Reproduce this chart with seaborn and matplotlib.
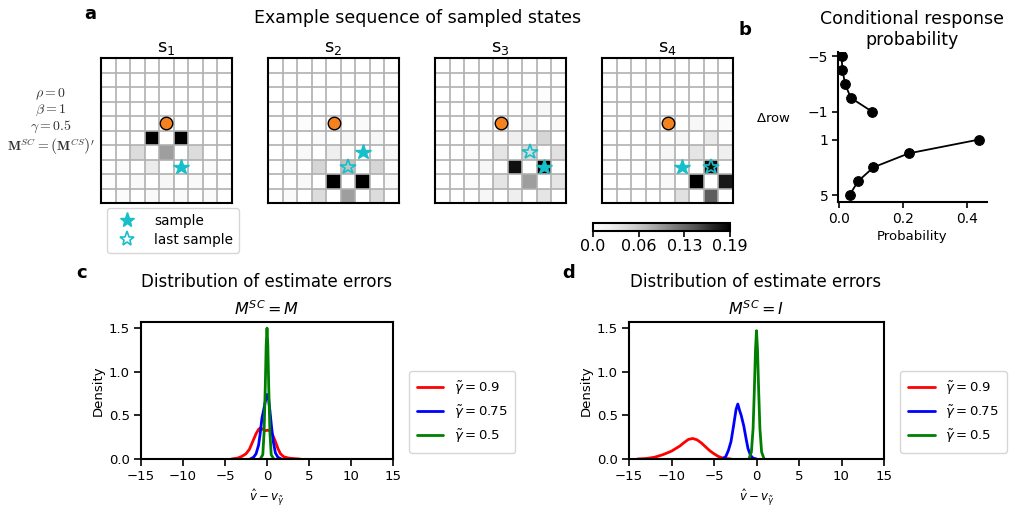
import numpy as np
import pandas as pd
import matplotlib
matplotlib.use("Agg")
import matplotlib.pyplot as plt
import seaborn as sns
from matplotlib.lines import Line2D

# ---------------- data ----------------
state_titles = ["s$_1$", "s$_2$", "s$_3$", "s$_4$"]

grid_s1 = [
    [0, 0, 0, 0, 0, 0, 0, 0, 0],
    [0, 0, 0, 0, 0, 0, 0, 0, 0],
    [0, 0, 0, 0, 0, 0, 0, 0, 0],
    [0, 0, 0, 0, 0, 0, 0, 0, 0],
    [0, 0, 0, 0, 0, 0, 0, 0, 0],
    [0, 0, 0, 0.19, 0, 0.19, 0, 0, 0],
    [0, 0, 0.045, 0, 0.09, 0, 0.045, 0, 0],
    [0, 0.008, 0, 0.028, 0, 0, 0, 0.008, 0],
    [0.004, 0, 0.01, 0, 0.012, 0, 0.01, 0, 0.004],
    [0, 0.006, 0, 0.008, 0, 0.008, 0, 0.006, 0],
]
grid_s2 = [
    [0, 0, 0, 0, 0, 0, 0, 0, 0],
    [0, 0, 0, 0, 0, 0, 0, 0, 0],
    [0, 0, 0, 0, 0, 0, 0, 0, 0],
    [0, 0, 0, 0, 0, 0, 0, 0.005, 0],
    [0, 0, 0.005, 0, 0, 0, 0.008, 0, 0.005],
    [0, 0.005, 0, 0.008, 0, 0.015, 0, 0.012, 0],
    [0, 0, 0.01, 0, 0.025, 0, 0, 0, 0.01],
    [0, 0.008, 0, 0.05, 0, 0.065, 0, 0.05, 0],
    [0, 0, 0.01, 0, 0.19, 0, 0.19, 0, 0.01],
    [0, 0.008, 0, 0.045, 0, 0.09, 0, 0.045, 0],
]
grid_s3 = [
    [0, 0, 0, 0, 0, 0, 0, 0, 0],
    [0, 0, 0, 0, 0, 0, 0, 0, 0],
    [0, 0, 0, 0, 0, 0, 0, 0.004, 0],
    [0, 0, 0, 0, 0, 0.004, 0, 0.012, 0],
    [0, 0, 0.004, 0, 0, 0, 0.015, 0, 0.008],
    [0, 0, 0, 0.01, 0, 0.025, 0, 0.05, 0],
    [0, 0, 0.006, 0, 0.035, 0, 0.045, 0, 0.04],
    [0, 0, 0, 0.012, 0, 0.18, 0, 0.19, 0],
    [0, 0, 0.006, 0, 0.035, 0, 0.09, 0, 0.035],
    [0, 0, 0, 0.012, 0, 0.025, 0, 0.035, 0],
]
grid_s4 = [
    [0, 0, 0, 0, 0, 0, 0, 0, 0],
    [0, 0, 0, 0, 0, 0, 0, 0, 0],
    [0, 0, 0, 0, 0, 0, 0, 0, 0],
    [0, 0, 0, 0, 0, 0, 0, 0.008, 0],
    [0, 0, 0, 0, 0, 0, 0.012, 0, 0.008],
    [0, 0, 0, 0.004, 0, 0.012, 0, 0.03, 0],
    [0, 0, 0, 0, 0.012, 0, 0.035, 0, 0.025],
    [0, 0, 0, 0.005, 0, 0, 0, 0.18, 0],
    [0, 0, 0, 0, 0.01, 0, 0.19, 0, 0.175],
    [0, 0, 0, 0, 0, 0.04, 0, 0.135, 0],
]
grids = [grid_s1, grid_s2, grid_s3, grid_s4]

goal_row, goal_col = 4, 4
sample_rows = [7, 6, 7, 7]
sample_cols = [5, 6, 7, 5]
last_rows = [None, 7, 6, 7]
last_cols = [None, 5, 6, 7]

cbar_ticks = [0.0, 0.19 / 3, 0.38 / 3, 0.19]
cbar_labels = ["0.0", "0.06", "0.13", "0.19"]

# panel b: conditional response probability
drow_neg = [-5, -4, -3, -2, -1]
prob_neg = [0.007, 0.010, 0.018, 0.036, 0.103]
drow_pos = [1, 2, 3, 4, 5]
prob_pos = [0.438, 0.217, 0.107, 0.059, 0.032]

# panel c: M^SC = M
c_red_x = [-4.2, -3.5, -3.0, -2.5, -2.1, -1.7, -1.3, -1.0, -0.8, -0.5, -0.2, 0.1, 0.4, 0.7, 1.0, 1.3, 1.6, 2.0, 2.6, 3.2, 3.9]
c_red_y = [0.0, 0.01, 0.03, 0.06, 0.11, 0.2, 0.29, 0.34, 0.355, 0.34, 0.325, 0.33, 0.32, 0.27, 0.2, 0.12, 0.06, 0.025, 0.01, 0.004, 0.0]
c_blue_x = [-2.0, -1.6, -1.3, -1.0, -0.8, -0.6, -0.4, -0.2, 0.0, 0.15, 0.35, 0.55, 0.75, 1.0, 1.3, 1.7]
c_blue_y = [0.0, 0.02, 0.06, 0.16, 0.3, 0.47, 0.56, 0.66, 0.74, 0.72, 0.55, 0.36, 0.2, 0.07, 0.02, 0.0]
c_green_x = [-0.8, -0.5, -0.35, -0.2, -0.1, 0.0, 0.1, 0.2, 0.35, 0.5, 0.8]
c_green_y = [0.0, 0.05, 0.3, 0.85, 1.3, 1.5, 1.3, 0.85, 0.3, 0.05, 0.0]

# panel d: M^SC = I
d_red_x = [-14.0, -13.0, -12.0, -11.0, -10.0, -9.0, -8.5, -8.0, -7.5, -7.0, -6.5, -6.0, -5.5, -5.0, -4.5, -4.0, -3.5, -3.0]
d_red_y = [0.0, 0.005, 0.02, 0.05, 0.09, 0.15, 0.19, 0.225, 0.235, 0.22, 0.185, 0.14, 0.095, 0.06, 0.03, 0.012, 0.004, 0.0]
d_blue_x = [-4.0, -3.6, -3.3, -3.0, -2.7, -2.4, -2.2, -2.0, -1.8, -1.5, -1.2, -1.0, -0.7, -0.4, 0.0]
d_blue_y = [0.0, 0.03, 0.1, 0.2, 0.38, 0.57, 0.63, 0.56, 0.5, 0.38, 0.22, 0.12, 0.04, 0.01, 0.0]
d_green_x = [-0.9, -0.6, -0.4, -0.25, -0.12, 0.0, 0.12, 0.25, 0.4, 0.6, 0.9]
d_green_y = [0.0, 0.08, 0.35, 0.8, 1.25, 1.47, 1.25, 0.8, 0.35, 0.08, 0.0]

gamma_labels = [r"$\tilde{\gamma} = 0.9$", r"$\tilde{\gamma} = 0.75$", r"$\tilde{\gamma} = 0.5$"]
gamma_colors = ["red", "blue", "green"]

# ---------------- figure ----------------
sns.set_theme(style="ticks")
plt.rcParams["font.family"] = ["DejaVu Sans"]
plt.rcParams["text.color"] = "black"
plt.rcParams["axes.labelcolor"] = "black"
plt.rcParams["xtick.color"] = "black"
plt.rcParams["ytick.color"] = "black"
plt.rcParams["axes.edgecolor"] = "black"

W, H = 1020, 519
fig = plt.figure(figsize=(W / 100, H / 100), dpi=100)


def add_ax(x0, y0, x1, y1):
    return fig.add_axes([x0 / W, 1 - y1 / H, (x1 - x0) / W, (y1 - y0) / H])


star_color = "#17bfc9"

grid_x0 = [101, 268, 435, 602]
cax = add_ax(593, 223, 730, 231)
for i, g in enumerate(grids):
    arr = np.array(g)
    nrow, ncol = arr.shape
    ax = add_ax(grid_x0[i], 58, grid_x0[i] + 131, 203)
    last = i == 3
    sns.heatmap(arr, ax=ax, cmap="Greys", vmin=0, vmax=0.19, linewidths=0,
                cbar=last, cbar_ax=cax if last else None,
                cbar_kws={"orientation": "horizontal", "ticks": cbar_ticks} if last else None,
                xticklabels=False, yticklabels=False)
    ax.hlines(np.arange(1, nrow), 0, ncol, colors="#b0b0b0", linewidths=1.2, zorder=2)
    ax.vlines(np.arange(1, ncol), 0, nrow, colors="#b0b0b0", linewidths=1.2, zorder=2)
    for s in ax.spines.values():
        s.set_visible(True)
        s.set_linewidth(1.5)
        s.set_color("black")
        s.set_zorder(5)
    ax.set_title(state_titles[i], fontsize=13, pad=4)
    ax.plot(goal_col + 0.5, goal_row + 0.5, "o", ms=9, mfc="#f5821f", mec="black", mew=1, zorder=4)
    ax.plot(sample_cols[i] + 0.5, sample_rows[i] + 0.5, "*", ms=11.5, color=star_color,
            mec=star_color, zorder=4)
    if last_rows[i] is not None:
        ax.plot(last_cols[i] + 0.5, last_rows[i] + 0.5, "*", ms=11.5, mfc="none",
                mec=star_color, mew=1.2, zorder=4)

cax.set_xticklabels(cbar_labels)
cax.tick_params(labelsize=11.5, length=4, width=1.2, pad=2)
cax.xaxis.set_ticks_position("bottom")
for s in cax.spines.values():
    s.set_linewidth(1.5)

# legend for panel a
handles = [
    Line2D([], [], ls="none", marker="*", ms=11, color=star_color, label="sample"),
    Line2D([], [], ls="none", marker="*", ms=11, mfc="none", mec=star_color, mew=1.2, label="last sample"),
]
fig.legend(handles=handles, loc="upper left", bbox_to_anchor=(107 / W, 1 - 208 / H),
           borderaxespad=0, fontsize=9.8, frameon=True, handletextpad=1.0,
           borderpad=0.45, labelspacing=0.35)

# parameter text
param_lines = [r"$\rho = 0$", r"$\beta = 1$", r"$\gamma = 0.5$",
               r"$\mathbf{M}^{SC} = \left(\mathbf{M}^{CS}_{\;}\right)^{\prime}$"]
param_y = [94, 110, 127, 146]
for t, y in zip(param_lines, param_y):
    fig.text(51 / W, 1 - y / H, t, ha="center", va="center", fontsize=10,
             color="#333333", math_fontfamily="cm")

fig.text(418 / W, 1 - 18 / H, "Example sequence of sampled states", ha="center", va="center", fontsize=12.5)
fig.text(90 / W, 1 - 14 / H, "a", ha="center", va="center", fontsize=13, fontweight="bold")

# ---------------- panel b ----------------
axb = add_ax(838, 52, 987, 202)
sns.lineplot(x=prob_neg, y=drow_neg, ax=axb, color="black", marker="o", ms=7,
             lw=1.3, sort=False, estimator=None, mec="black")
sns.lineplot(x=prob_pos, y=drow_pos, ax=axb, color="black", marker="o", ms=7,
             lw=1.3, sort=False, estimator=None, mec="black")
axb.set_xlim(-0.004, 0.462)
axb.set_ylim(5.5, -5.3)
axb.set_yticks([-5, -1, 1, 5])
axb.set_xticks([0.0, 0.2, 0.4])
sns.despine(ax=axb)
for s in ["left", "bottom"]:
    axb.spines[s].set_linewidth(1.5)
axb.tick_params(labelsize=10, length=4, width=1.2, pad=3)
axb.set_xlabel("Probability", fontsize=9.5, labelpad=3)
axb.set_ylabel(r"$\Delta$row", fontsize=9.5, rotation=0, ha="center", va="center")
axb.yaxis.set_label_coords(-0.43, 0.56)
axb.set_title("Conditional response\nprobability", fontsize=12.5, pad=5)
fig.text(745 / W, 1 - 30 / H, "b", ha="center", va="center", fontsize=13, fontweight="bold")

# ---------------- panels c, d ----------------
def density_df(xs, ys):
    parts = []
    for lab, x, y in zip(gamma_labels, xs, ys):
        parts.append(pd.DataFrame({"err": x, "density": y, "gamma": lab}))
    return pd.concat(parts, ignore_index=True)


df_c = density_df([c_red_x, c_blue_x, c_green_x], [c_red_y, c_blue_y, c_green_y])
df_d = density_df([d_red_x, d_blue_x, d_green_x], [d_red_y, d_blue_y, d_green_y])

panels = [
    (df_c, (141, 322, 393, 459), r"$M^{SC} = M$", "c", 82, 267),
    (df_d, (629, 322, 884, 459), r"$M^{SC} = I$", "d", 569, 756),
]
for df, box, sub, letter, lx, tx in panels:
    ax = add_ax(*box)
    sns.lineplot(data=df, x="err", y="density", hue="gamma", palette=gamma_colors,
                 sort=False, estimator=None, lw=2, ax=ax)
    ax.set_xlim(-15, 15)
    ax.set_ylim(0, 1.57)
    ax.set_xticks([-15, -10, -5, 0, 5, 10, 15])
    ax.set_yticks([0.0, 0.5, 1.0, 1.5])
    for s in ax.spines.values():
        s.set_linewidth(1.5)
    ax.tick_params(labelsize=9.5, length=5, width=1.2, pad=3)
    ax.set_xlabel(r"$\hat{v} - v_{\tilde{\gamma}}$", fontsize=8.5, labelpad=3)
    ax.set_ylabel("Density", fontsize=9.5, labelpad=3)
    ax.set_title(sub, fontsize=11.5, pad=5)
    leg = ax.legend(loc="center left", bbox_to_anchor=(1.064, 0.343), borderaxespad=0,
                    fontsize=9.5, frameon=True, title=None, borderpad=0.6, labelspacing=0.5,
                    handlelength=2.0)
    for line in leg.get_lines():
        line.set_linewidth(2)
    fig.text(tx / W, 1 - 282 / H, "Distribution of estimate errors", ha="center", va="center", fontsize=12)
    fig.text(lx / W, 1 - 273 / H, letter, ha="center", va="center", fontsize=13, fontweight="bold")

fig.savefig("out.png", dpi=100)
